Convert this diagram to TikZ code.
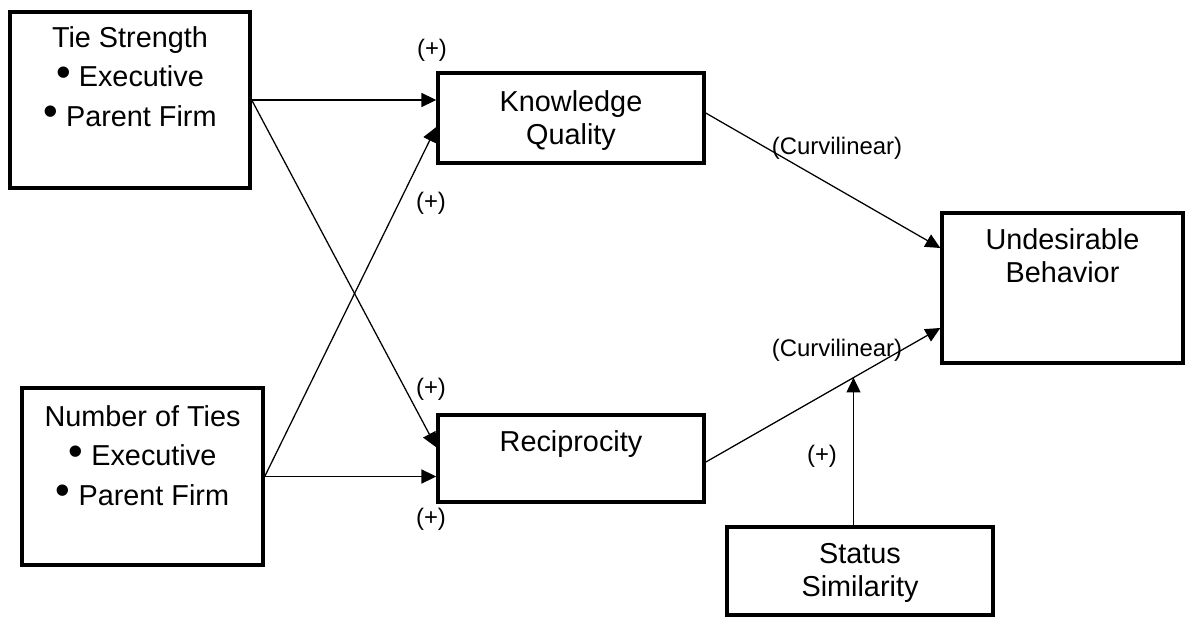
\documentclass[tikz,border=0pt]{standalone}
\usepackage{fontspec}
\setmainfont{Liberation Sans}
\usetikzlibrary{arrows.meta,positioning}
\tikzset{
  varbox/.style={draw=black,line width=2.4pt,rectangle,inner sep=0pt},
  vartext/.style={inner sep=0pt,align=center,
    font=\fontsize{20.5}{23.5}\selectfont},
  pathlabel/.style={inner sep=0pt,font=\fontsize{17}{20}\selectfont},
  patharrow/.style={-{Triangle[length=0.37cm,width=0.35cm]},
    line width=0.9pt,draw=black},
}
\newcommand{\bulletitem}[1]{\raisebox{0.02em}{\scalebox{1.45}{\textbullet}}~#1}

\begin{document}
\begin{tikzpicture}[x=0.025cm,y=-0.025cm]
  \useasboundingbox (0,0) rectangle (1185,624);
  % boxes
  \node[varbox,minimum width=6cm,minimum height=4.4cm] (tiestr) at (130,100) {};
  \node[varbox,minimum width=6.025cm,minimum height=4.425cm] (numties) at (142.5,476.5) {};
  \node[varbox,minimum width=6.65cm,minimum height=2.25cm] (knowq) at (571,118) {};
  \node[varbox,minimum width=6.65cm,minimum height=2.175cm] (recip) at (571,458.5) {};
  \node[varbox,minimum width=6.025cm,minimum height=3.75cm] (undes) at (1062.5,288) {};
  \node[varbox,minimum width=6.65cm,minimum height=2.2cm] (status) at (860,571) {};
  % box texts
  \node[vartext,below=0.4cm of tiestr.north] (tiestr-txt)
    {Tie Strength\\[4.5pt]\bulletitem{Executive}\\[4.5pt]\bulletitem{Parent Firm}};
  \node[vartext,below=0.475cm of numties.north] (numties-txt)
    {Number of Ties\\[4.5pt]\bulletitem{Executive}\\[4.5pt]\bulletitem{Parent Firm}};
  \node[vartext,below=0.475cm of knowq.north] (knowq-txt) {Knowledge\\Quality};
  \node[vartext,below=0.425cm of recip.north] (recip-txt) {Reciprocity};
  \node[vartext,below=0.425cm of undes.north] (undes-txt) {Undesirable\\Behavior};
  \node[vartext,below=0.45cm of status.north] (status-txt) {Status\\Similarity};
  % connectors
  \draw[patharrow] (tiestr.east) -- (tiestr.east -| knowq.west);
  \draw[patharrow] (tiestr.east) -- ([yshift=0.28cm]recip.west);
  \draw[patharrow] (numties.east) -- ([yshift=-0.225cm]knowq.west);
  \draw[patharrow] (numties.east) -- (numties.east -| recip.west);
  \draw[patharrow] ([yshift=0.125cm]knowq.east) -- ([yshift=1cm]undes.west);
  \draw[patharrow] ([yshift=-0.09cm]recip.east) -- coordinate[pos=0.63] (mod)
    ([yshift=-1cm]undes.west);
  \draw[patharrow] (status.north -| mod) -- (mod);
  % path labels
  \node[pathlabel] (lab-a) at (432,50) {(+)};
  \node[pathlabel] (lab-b) at (431,203) {(+)};
  \node[pathlabel] (lab-c) at (431,389) {(+)};
  \node[pathlabel] (lab-d) at (431,519) {(+)};
  \node[pathlabel] (lab-e) at (837,148) {(Curvilinear)};
  \node[pathlabel] (lab-f) at (837,350) {(Curvilinear)};
  \node[pathlabel] (lab-g) at (822,456) {(+)};
\end{tikzpicture}
\end{document}
